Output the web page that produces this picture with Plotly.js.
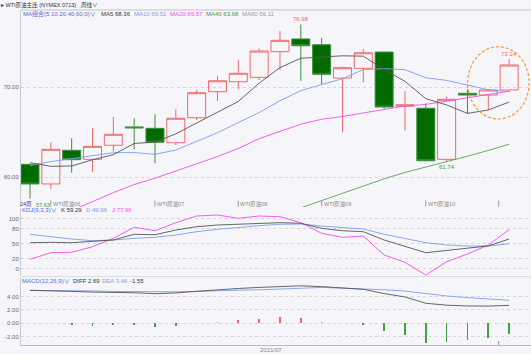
<!DOCTYPE html>
<html><head><meta charset="utf-8">
<script src="https://cdn.plot.ly/plotly-3.0.1.min.js"></script>
<style>html,body{margin:0;padding:0;background:#f6f6fa;overflow:hidden}#chart{width:531px;height:354px}</style>
</head><body><div id="chart"></div>
<script>
// ---- data (weekly candles, WTI原油主连) ----
const openP  = [61.44,59.26,63.00,62.00,63.56,65.60,65.44,63.84,66.62,69.51,70.62,71.11,73.96,75.37,74.73,71.03,72.11,73.92,67.90,67.67,62.00,69.33,69.14,69.70];
const highP  = [61.50,63.89,64.33,65.44,66.73,66.56,67.00,67.56,69.70,71.26,73.03,74.33,76.26,76.98,75.51,72.30,74.26,73.95,69.59,68.22,68.96,69.78,69.78,73.14];
const lowP   = [57.63,58.67,60.51,60.59,62.84,63.11,61.56,63.59,66.37,68.48,69.78,70.81,71.92,70.73,70.37,65.00,70.56,67.56,65.18,61.80,61.74,67.03,67.48,69.51];
const closeP = [59.26,63.11,61.96,63.44,64.78,65.50,63.89,66.56,69.40,70.73,71.56,74.03,75.22,74.62,71.44,72.18,73.84,67.81,68.05,61.84,68.67,69.14,69.70,72.48];
const ma5  = [61.62,61.22,61.26,61.95,62.51,63.76,63.91,64.83,66.03,67.22,68.43,70.46,72.19,73.23,73.37,73.50,73.46,71.98,70.66,68.74,68.04,67.10,67.48,68.36];
const ma10 = [61.30,61.75,62.07,62.42,62.73,62.75,62.55,63.03,64.00,64.95,66.09,67.19,68.51,69.63,70.30,70.96,71.96,72.08,71.95,71.06,70.77,70.28,69.73,69.51];
const ma20 = [null,55.5,56.3,57.3,58.3,59.2,59.9,60.7,61.5,62.3,63.2,64.3,65.1,65.9,66.45,66.75,67.15,67.55,67.92,68.10,68.45,68.85,69.20,69.57];
const ma40 = [null,null,null,null,null,null,null,null,null,null,null,null,55.8,56.62,57.43,58.21,59.02,59.83,60.54,61.13,61.71,62.34,62.98,63.68];
const ma60Last = 56.11;
const kdjK = [51.9,52.7,51.9,54.7,57.3,68.6,67.8,77.1,83.7,87.1,89.1,90.5,91.7,90.5,80.5,75.7,73.8,57.3,43.9,32.0,36.5,40.5,45.5,59.29];
const kdjD = [68.6,63.8,59.2,55.9,57.3,60.6,62.6,67.2,73.8,78.5,82.5,85.7,88.5,89.1,85.1,81.7,79.1,68.6,60.6,51.9,47.3,45.3,45.3,49.96];
const kdjJ = [18.9,32.0,32.8,43.9,60.6,82.5,75.7,91.7,105,107,100.4,105,103.6,91.7,70.6,62.6,65.2,27.4,12.9,-12.3,14.1,29.4,47.3,77.96];
const diff = [4.95,4.90,4.78,4.68,4.64,4.58,4.44,4.55,4.80,5.05,5.22,5.38,5.45,5.62,5.50,5.30,5.10,4.45,3.95,3.00,2.72,2.60,2.58,2.69];
const dea  = [4.92,4.90,4.93,4.86,4.77,4.73,4.69,4.72,4.78,4.93,4.97,5.02,5.08,5.25,5.38,5.30,5.20,5.03,4.83,4.45,4.10,3.85,3.66,3.46];
const macdHist = [0.05,0.02,-0.30,-0.35,-0.25,-0.30,-0.50,-0.33,0.05,0.25,0.50,0.65,1.00,0.75,0.25,0.03,-0.20,-1.15,-1.75,-2.90,-2.75,-2.50,-2.15,-1.55];
const contractTicks = [1,6,10,14,19];
const contractLabels = ['WTI原油06','WTI原油07','WTI原油08','WTI原油09','WTI原油10'];
const extraTick = 22.5;
const dateLabel = '2021/07';

// ---- layout helpers ----
const idx = closeP.map((_, i) => i);
const W = 531, H = 354, M = {l:21, r:0, t:10, b:9};
const PW = W - M.l - M.r, PH = H - M.t - M.b;
const px = x => (x - M.l) / PW;
const py = y => (H - M.b - y) / PH;
const FONT = 'Liberation Sans, Arial, Noto Sans CJK SC, sans-serif';
const RED = '#f06a6a', GREEN = '#3d8f3d', GRAY = '#555555', BLUE = '#7d9cf0', MAG = '#f04cf0', G40 = '#5aa05a';
function lab(text, x, y, color, size, anchor) {
  return {text, x: px(x), y: py(y), xref:'paper', yref:'paper', xanchor: anchor || 'left', yanchor:'middle',
    showarrow:false, borderpad:0, borderwidth:0, font:{family:FONT, size:size || 6, color}};
}
const last = a => a[a.length - 1].toFixed(2);
const XR = [-0.432, 24.05];

const line = (y, color, ax) => ({type:'scatter', mode:'lines', x: idx, y, xaxis: ax[0], yaxis: ax[1],
  line:{color, width:0.9}, hoverinfo:'skip', connectgaps:false});

const traces = [
  {type:'candlestick', x: idx, open: openP, high: highP, low: lowP, close: closeP, xaxis:'x', yaxis:'y',
   increasing:{line:{color:RED, width:1}, fillcolor:'rgba(0,0,0,0)'},
   decreasing:{line:{color:GREEN, width:1}, fillcolor:'#006c00'}, whiskerwidth:0, hoverinfo:'skip'},
  line(ma40, G40, ['x','y']),
  line(ma20, MAG, ['x','y']),
  line(ma10, BLUE, ['x','y']),
  line(ma5, GRAY, ['x','y']),
  line(kdjD, BLUE, ['x2','y2']),
  line(kdjJ, MAG, ['x2','y2']),
  line(kdjK, GRAY, ['x2','y2']),
  {type:'bar', x: idx, y: macdHist, xaxis:'x3', yaxis:'y3', width:0.08,
   marker:{color: macdHist.map(v => v >= 0 ? RED : '#44a044'), line:{width:0}}, hoverinfo:'skip'},
  line(dea, BLUE, ['x3','y3']),
  line(diff, GRAY, ['x3','y3'])
];

const annotations = [
  lab('▸ WTI原油主连 (NYMEX 0713)', 1, 4.5, '#333', 5.5),
  lab('周线∨', 81, 4.5, '#333', 5.5),
  lab('MA组合(5,10,20,40,60,0)∨', 23, 14, '#4d6fd8'),
  lab('MA5 ' + last(ma5), 101, 14, '#333'),
  lab('MA10 ' + last(ma10), 134, 14, BLUE),
  lab('MA20 ' + last(ma20), 170, 14, MAG),
  lab('MA40 ' + last(ma40), 206, 14, '#3c9a3c'),
  lab('MA60 ' + ma60Last.toFixed(2), 242, 14, '#9a9a9a'),
  lab('KDJ(9,3,3)∨', 22, 210, '#4d6fd8'),
  lab('K ' + last(kdjK), 61, 210, '#333'),
  lab('D ' + last(kdjD), 86, 210, BLUE),
  lab('J ' + last(kdjJ), 112, 210, MAG),
  lab('MACD(12,26,9)∨', 22, 281, '#4d6fd8'),
  lab('DIFF ' + last(diff), 73, 281, '#333'),
  lab('DEA ' + last(dea), 102, 281, BLUE),
  lab(last(macdHist), 130, 281, '#333'),
  lab(dateLabel, 271, 350, '#888', 6, 'center'),
  {text: highP[13].toFixed(2), x: 13, y: highP[13], xref:'x', yref:'y', xanchor:'center', yanchor:'bottom', showarrow:false, borderpad:0, yshift:1, font:{family:FONT, size:6, color:RED}},
  {text: highP[23].toFixed(2), x: 23, y: highP[23], xref:'x', yref:'y', xanchor:'center', yanchor:'bottom', showarrow:false, borderpad:0, yshift:1, font:{family:FONT, size:6, color:RED}},
  {text: lowP[20].toFixed(2), x: 20, y: lowP[20], xref:'x', yref:'y', xanchor:'center', yanchor:'top', showarrow:false, borderpad:0, yshift:-1, font:{family:FONT, size:6, color:'#3c9a3c'}},
  {text: lowP[0].toFixed(2), x: 0, y: lowP[0], xref:'x', yref:'y', xanchor:'left', yanchor:'top', showarrow:false, borderpad:0, xshift:5, yshift:-2, font:{family:FONT, size:5.5, color:'#3c9a3c'}},
  lab('24周', 20, 204.5, '#2a3a9a', 5.5)
];
contractTicks.forEach((t, i) => annotations.push({text: contractLabels[i], x: t, y: py(203.5), xref:'x', yref:'paper',
  xanchor:'left', yanchor:'middle', xshift:1, showarrow:false, borderpad:0, font:{family:FONT, size:5.5, color:'#888'}}));

const shapes = [
  {type:'line', xref:'paper', yref:'paper', x0:0, x1:1, y0:1, y1:1, line:{color:'#c0c0c8', width:1}},
  {type:'line', xref:'paper', yref:'paper', x0:0, x1:1, y0:py(276.5), y1:py(276.5), line:{color:'#dcdce2', width:1}},
  {type:'circle', xref:'x', yref:'y', x0:21.01, x1:23.96, y0:66.48, y1:74.51, line:{color:'#f39c34', width:1.2, dash:'3px,2px'}}
];
contractTicks.concat([extraTick]).forEach(t => shapes.push({type:'line', xref:'x', yref:'paper', x0:t, x1:t, y0:py(206.5), y1:py(200.5), line:{color:'#999', width:1}}));
shapes.push({type:'line', xref:'x3', yref:'paper', x0:extraTick, x1:extraTick, y0:py(345), y1:py(341), line:{color:'#999', width:1}});

const yBase = {showline:true, linecolor:'#c8c8d0', linewidth:1, zeroline:false, ticks:'', showgrid:true,
  gridcolor:'#d6d6dc', griddash:'dot', gridwidth:1, fixedrange:true, tickfont:{family:FONT, size:6, color:'#666'}};
const xBase = {range: XR, showgrid:false, zeroline:false, showticklabels:false, ticks:'', fixedrange:true, showline:false};

const layout = {
  width: W, height: H, margin:{l:M.l, r:M.r, t:M.t, b:M.b, pad:0},
  paper_bgcolor:'#f6f6fa', plot_bgcolor:'#f6f6fa', showlegend:false,
  boxgap:0.05, boxgroupgap:0.09, bargap:0,
  xaxis: Object.assign({}, xBase, {anchor:'y', rangeslider:{visible:false}}),
  xaxis2: Object.assign({}, xBase, {anchor:'y2'}),
  xaxis3: Object.assign({}, xBase, {anchor:'y3', showline:true, linecolor:'#bcbcc4'}),
  yaxis: Object.assign({}, yBase, {domain:[py(207), 1], range:[56.70, 78.59], tickvals:[60,70], ticktext:['60.00','70.00']}),
  yaxis2: Object.assign({}, yBase, {domain:[py(276), py(208)], range:[-14.3, 120.9], tickvals:[0,20,50,80,100], ticktext:['0','20','50','80','100']}),
  yaxis3: Object.assign({}, yBase, {domain:[0, py(278)], range:[-3.25, 6.79], tickvals:[-2,0,2,4], ticktext:['-2.00','0.00','2.00','4.00']}),
  annotations, shapes
};
Plotly.newPlot('chart', traces, layout, {staticPlot:true, displayModeBar:false});
</script></body></html>
